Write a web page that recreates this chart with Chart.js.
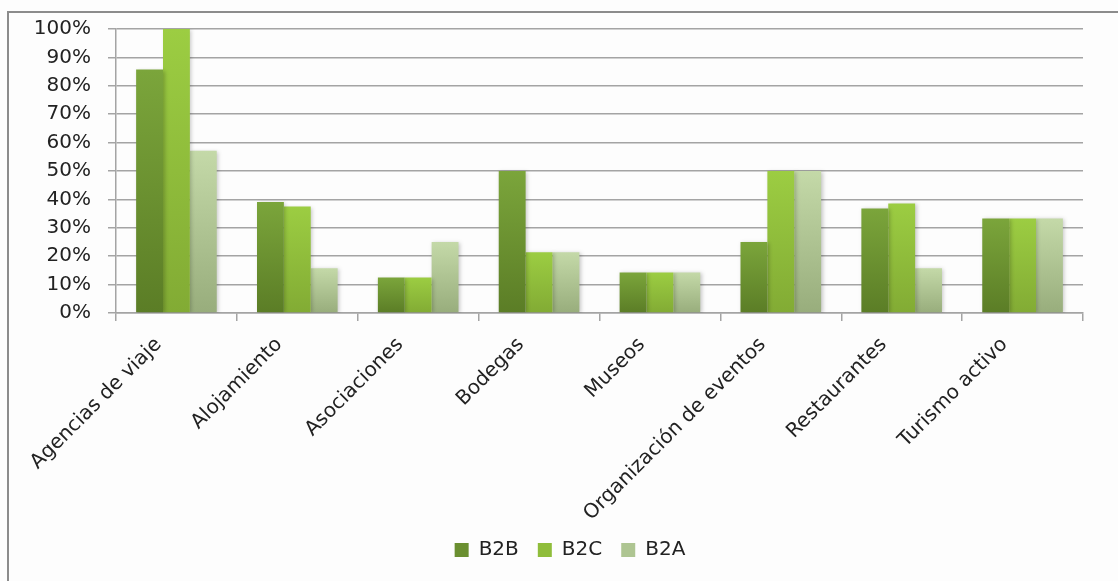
<!DOCTYPE html>
<html>
<head>
<meta charset="utf-8">
<script src="https://cdn.jsdelivr.net/npm/chart.js@4"></script>
<style>
  html, body { margin: 0; padding: 0; background: #fff; }
  #wrap { position: relative; width: 1118px; height: 581px; overflow: hidden; background: #fdfdfd; }
  #frame { position: absolute; left: 7px; top: 11px; width: 1300px; height: 800px;
           border-left: 2px solid #8c8c8c; border-top: 2px solid #8c8c8c; pointer-events: none; }
  canvas { position: absolute; left: 0; top: 0; }
</style>
</head>
<body>
<div id="wrap">
  <div id="frame"></div>
  <canvas id="chart" width="1118" height="581"></canvas>
</div>
<script>
// Sectors (categories)
const categories = [
  'Agencias de viaje', 'Alojamiento', 'Asociaciones', 'Bodegas',
  'Museos', 'Organización de eventos', 'Restaurantes', 'Turismo activo'
];

// Share of companies per sector, in percent
const seriesNames = ['B2B', 'B2C', 'B2A'];
const b2b = [85.7, 39.1, 12.5, 50.0, 14.3, 25.0, 36.8, 33.3];
const b2c = [100.0, 37.5, 12.5, 21.4, 14.3, 50.0, 38.6, 33.3];
const b2a = [57.1, 15.8, 25.0, 21.4, 14.3, 50.0, 15.8, 33.3];

// Percent axis ticks
const yMin = 0, yMax = 100, yStep = 10;

// Top / bottom colours of each series' vertical gradient, plus a flat legend swatch
const shades = [
  { top: '#7ba53b', bottom: '#5b7d26', swatch: '#6a8f30' },
  { top: '#9ccd42', bottom: '#82ab34', swatch: '#8fbd3b' },
  { top: '#c4d9a8', bottom: '#98ad7c', swatch: '#aec592' }
];

const FAMILY = '"DejaVu Sans", sans-serif';
const TEXT = '#222222';
const GRID = '#a4a4a4';

function barGradient(idx) {
  return (ctx) => {
    const chart = ctx.chart;
    const y = chart.scales && chart.scales.y;
    if (!y || ctx.raw == null) return shades[idx].swatch;
    const top = y.getPixelForValue(ctx.raw);
    const bottom = y.getPixelForValue(0);
    if (!isFinite(top) || !isFinite(bottom) || bottom - top < 1) return shades[idx].swatch;
    const g = chart.ctx.createLinearGradient(0, top, 0, bottom);
    g.addColorStop(0, shades[idx].top);
    g.addColorStop(1, shades[idx].bottom);
    return g;
  };
}

// Soft drop shadow under the bars
const barShadow = {
  id: 'barShadow',
  beforeDatasetsDraw(chart) {
    const c = chart.ctx;
    c.save();
    c.shadowColor = 'rgba(0,0,0,0.22)';
    c.shadowBlur = 4;
    c.shadowOffsetX = 1.5;
    c.shadowOffsetY = 1;
  },
  afterDatasetsDraw(chart) {
    chart.ctx.restore();
  }
};

// Centre the legend under the whole frame rather than under the padded box
const legendShift = {
  id: 'legendShift',
  afterLayout(chart) {
    const lg = chart.legend;
    if (!lg) return;
    const dx = (chart.width - (lg.left + lg.right)) / 2 + 11;
    lg.left += dx;
    lg.right += dx;
  }
};

const seriesValues = [b2b, b2c, b2a];

new Chart(document.getElementById('chart'), {
  type: 'bar',
  data: {
    labels: categories,
    datasets: seriesValues.map((vals, i) => ({
      label: seriesNames[i],
      data: vals,
      backgroundColor: barGradient(i),
      borderWidth: 0,
      categoryPercentage: 0.667,
      barPercentage: 1.0
    }))
  },
  options: {
    responsive: false,
    animation: false,
    devicePixelRatio: 1,
    layout: { padding: { left: 0, right: 35, top: 28, bottom: 11 } },
    plugins: {
      tooltip: { enabled: false },
      legend: {
        position: 'bottom',
        labels: {
          font: { family: FAMILY, size: 20 },
          color: TEXT,
          boxWidth: 14,
          boxHeight: 14,
          padding: 19,
          generateLabels(chart) {
            return chart.data.datasets.map((ds, i) => ({
              text: ds.label,
              fillStyle: shades[i].swatch,
              strokeStyle: shades[i].swatch,
              lineWidth: 0,
              hidden: false,
              datasetIndex: i,
              fontColor: TEXT
            }));
          }
        }
      }
    },
    scales: {
      x: {
        grid: { drawOnChartArea: false, drawTicks: true, tickLength: 8, color: GRID, lineWidth: 1.5, offset: true },
        border: { color: GRID, width: 1.5 },
        ticks: {
          font: { family: FAMILY, size: 20 }, color: TEXT,
          minRotation: 45, maxRotation: 45, autoSkip: false,
          padding: 12, labelOffset: -18
        },
        afterFit(scale) { scale.height = 208; }
      },
      y: {
        min: yMin,
        max: yMax,
        grid: { color: GRID, lineWidth: 1.5, tickLength: 8 },
        border: { color: GRID, width: 1.5 },
        ticks: { stepSize: yStep, font: { family: FAMILY, size: 20 }, color: TEXT, padding: 17, callback: v => v + '%' },
        afterFit(scale) { scale.width = 116; }
      }
    }
  },
  plugins: [barShadow, legendShift]
});
</script>
</body>
</html>
